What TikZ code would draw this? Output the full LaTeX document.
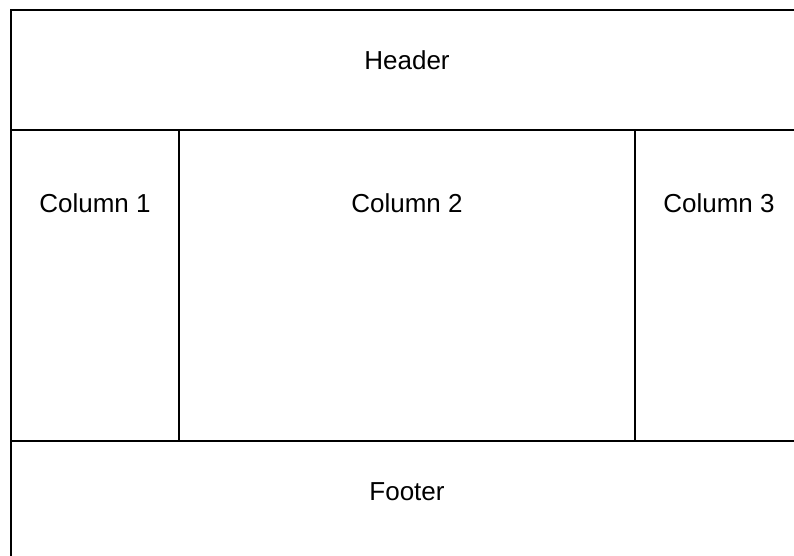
\documentclass[tikz,border=0pt]{standalone}
\usepackage{fontspec}
\setmainfont{Liberation Sans}
\usetikzlibrary{positioning}

\begin{document}
\begin{tikzpicture}[
    node distance=0pt,
    % --- styles ---
    % frame cells
    cellbox/.style={draw=black, line width=1.6pt, inner sep=0pt, outer sep=0pt},
    % cell captions
    celltext/.style={inner sep=0pt, font=\fontsize{26}{30}\selectfont}
]
\useasboundingbox (0,0) rectangle (794pt,-555pt);

% --- 1. Frame ---

% Header
\node[cellbox, minimum width=792pt, minimum height=120pt] (Header) at (407pt,-70pt) {};

% Columns (below the header)
\node[cellbox, minimum width=168pt, minimum height=311pt, below right=0pt and 0pt of Header.south west] (Col1) {};
\node[cellbox, minimum width=456pt, minimum height=311pt, right=of Col1] (Col2) {};
\node[cellbox, minimum width=168pt, minimum height=311pt, right=of Col2] (Col3) {};

% Footer
\node[cellbox, minimum width=792pt, minimum height=120pt, below=of Col2] (Footer) {};

% --- 2. Captions ---

\node[celltext, below=40pt of Header.north] (HeaderText) {Header};
\node[celltext, below=63pt of Col1.north] (Col1Text) {Column 1};
\node[celltext, below=63pt of Col2.north] (Col2Text) {Column 2};
\node[celltext, below=63pt of Col3.north] (Col3Text) {Column 3};
\node[celltext, below=41pt of Footer.north] (FooterText) {Footer};

\end{tikzpicture}
\end{document}
